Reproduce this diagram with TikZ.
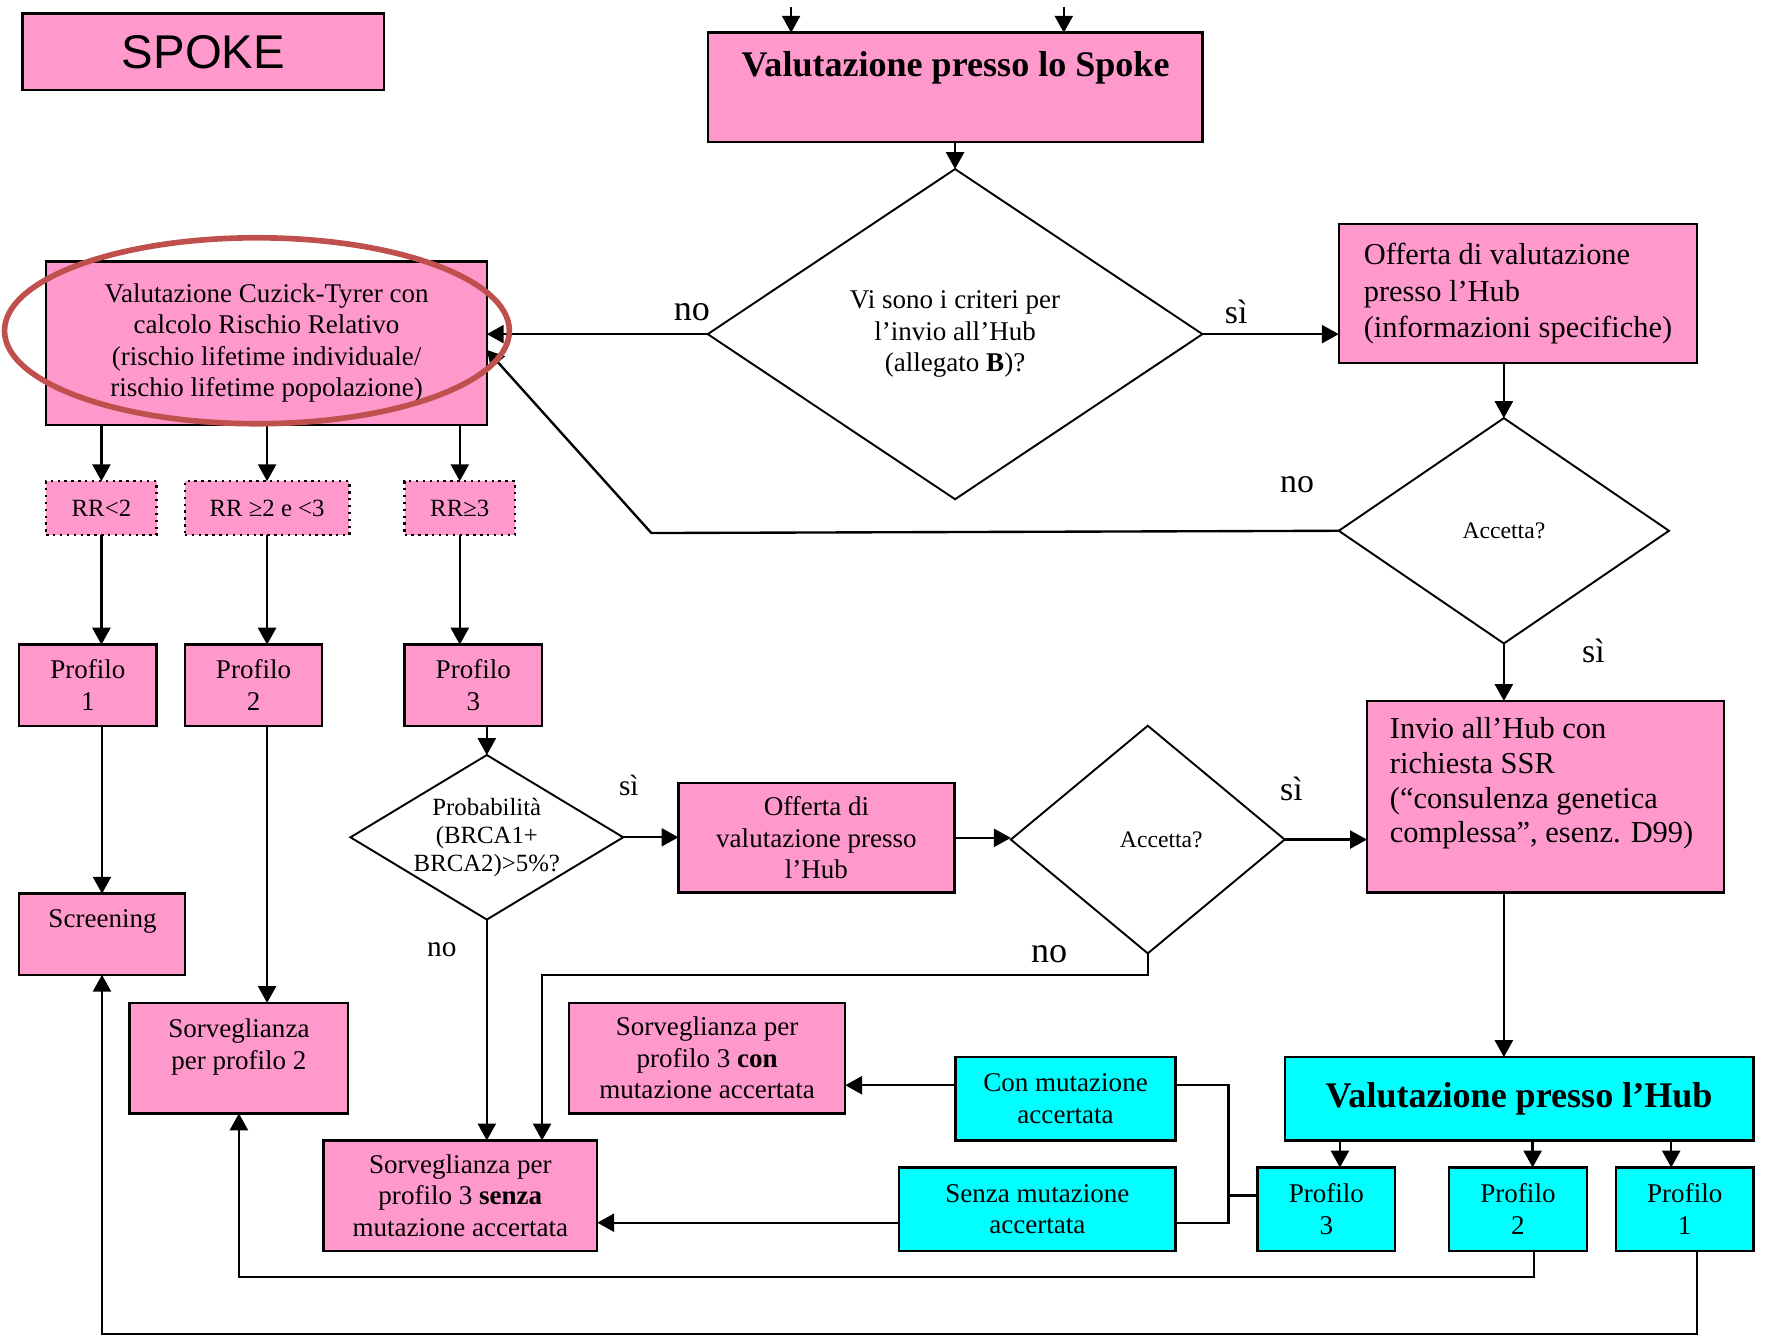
\documentclass[tikz,border=0pt]{standalone}
\usepackage{fontspec}
\setmainfont{Liberation Serif}
\newfontfamily\headsans{Liberation Sans}
\usetikzlibrary{arrows.meta,shapes.geometric}

\definecolor{boxpink}{HTML}{FF99CC}
\definecolor{boxcyan}{HTML}{00FFFF}
\definecolor{ringred}{HTML}{C0504D}

\newcommand\fsz[2]{\fontsize{#1}{#2}\selectfont}
% rectangle node spanning the corners (x1,y1)-(x2,y2) of the layout grid
\newcommand\mkbox[7]{%
  \node[#2, minimum width={(#5-#3)*0.5pt}, minimum height={(#6-#4)*0.5pt}]
    (#1) at ({(#3+#5)/2},{(#4+#6)/2}) {#7};}

\tikzset{
  box/.style={draw, line width=1.05pt, inner sep=0pt, outer sep=0pt, align=center, font=\fsz{12}{14}},
  pinkbox/.style={box, fill=boxpink},
  cyanbox/.style={box, fill=boxcyan},
  rrbox/.style={pinkbox, dotted, font=\fsz{11}{13}},
  decision/.style={draw, diamond, line width=0.85pt, inner sep=0pt, outer sep=0pt, align=center},
  txt/.style={inner sep=0pt, outer sep=0pt, align=center, font=\fsz{12}{14}},
  tag/.style={inner sep=0pt, outer sep=0pt, font=\fsz{15}{18}},
  arr/.style={line width=1.05pt, -{Triangle[length=7.5pt,width=8pt]}},
  conn/.style={line width=1.05pt},
}

\begin{document}
\begin{tikzpicture}[x=0.5pt, y=-0.5pt]
\useasboundingbox (0,0) rectangle (1568,1189);

% ---------- header ----------
\mkbox{spoke}{pinkbox, font=\headsans\fsz{21}{25}}{20}{12}{341}{80}{SPOKE}
\mkbox{vspoke}{pinkbox}{628}{29}{1067}{126}{}
\node[txt, font=\bfseries\fsz{16}{19}] (vspoketxt) at (848,60) {Valutazione presso lo Spoke};
\coordinate (inA) at (702,6);
\coordinate (inB) at (944,6);

% ---------- spoke decisions ----------
\node[decision, shape aspect=1.5, minimum width=219.5pt, minimum height=146.5pt, font=\fsz{12}{14}]
  (crit) at (847.5,296.5) {Vi sono i criteri per\\l’invio all’Hub\\(allegato \textbf{B})?};
\mkbox{cuzick}{pinkbox}{41}{232}{432}{377}{Valutazione Cuzick-Tyrer con\\calcolo Rischio Relativo\\(rischio lifetime individuale/\\rischio lifetime popolazione)}
\mkbox{off1}{pinkbox, align=left, font=\fsz{13.5}{16}}{1188}{199}{1506}{322}{Offerta di valutazione\\presso l’Hub\\(informazioni specifiche)}
\node[decision, shape aspect=1.46, minimum width=146.5pt, minimum height=100pt, font=\fsz{10.5}{12}]
  (acc1) at (1334.5,471) {Accetta?};
\coordinate (back) at (578,473);

\mkbox{invio}{pinkbox}{1213}{622}{1530}{792}{}
\node[txt, align=left, font=\fsz{13.5}{15.5}] (inviotxt) at (1368,695)
  {Invio all’Hub con\\richiesta SSR\\(“consulenza genetica\\complessa”, esenz. D99)};

% ---------- relative risk classes ----------
\mkbox{rr1}{rrbox}{41}{427}{139}{475}{RR<2}
\mkbox{rr2}{rrbox}{164}{427}{310}{475}{RR ≥2 e <3}
\mkbox{rr3}{rrbox}{359}{427}{457}{475}{RR≥3}

\mkbox{pr1}{pinkbox}{17}{572}{139}{644}{Profilo\\1}
\mkbox{pr2}{pinkbox}{164}{572}{286}{644}{Profilo\\2}
\mkbox{pr3}{pinkbox}{359}{572}{481}{644}{Profilo\\3}

\mkbox{screen}{pinkbox}{17}{793}{164}{865}{}
\node[txt] (screentxt) at (91,818) {Screening};

\node[decision, shape aspect=1.66, minimum width=121pt, minimum height=73pt, inner sep=-4pt, font=\fsz{11}{12.3}]
  (brca) at (432,743) {Probabilità\\(BRCA1+\\BRCA2)>5\%?};
\mkbox{off2}{pinkbox}{602}{695}{847}{792}{Offerta di\\valutazione presso\\l’Hub}
\node[decision, shape aspect=1.2, minimum width=121.5pt, minimum height=101pt, font=\fsz{10.5}{12}]
  (acc2) at (1018.5,745) {\hspace*{12pt}Accetta?};
\coordinate (nob) at (481,865);

% ---------- surveillance ----------
\mkbox{sorv2}{pinkbox}{115}{890}{309}{988}{}
\node[txt] (sorv2txt) at (212,929) {Sorveglianza\\per profilo 2};
\mkbox{sorvcon}{pinkbox}{505}{890}{750}{988}{Sorveglianza per\\profilo 3 \textbf{con}\\mutazione accertata}
\mkbox{sorvsenza}{pinkbox}{287}{1012}{530}{1110}{Sorveglianza per\\profilo 3 \textbf{senza}\\mutazione accertata}

% ---------- hub ----------
\mkbox{hub}{cyanbox, font=\bfseries\fsz{16}{19}}{1140}{938}{1556}{1012}{Valutazione presso l’Hub}
\mkbox{hp3}{cyanbox}{1116}{1036}{1238}{1110}{Profilo\\3}
\mkbox{hp2}{cyanbox}{1286}{1036}{1408}{1110}{Profilo\\2}
\mkbox{hp1}{cyanbox}{1434}{1036}{1556}{1110}{Profilo\\1}
\mkbox{con}{cyanbox}{848}{938}{1043}{1012}{Con mutazione\\accertata}
\mkbox{senza}{cyanbox}{798}{1036}{1043}{1110}{Senza mutazione\\accertata}
\coordinate (brk) at (1090,1061);
\coordinate (brkTop) at (1090,963);
\coordinate (brkBot) at (1090,1085);
\coordinate (ret2) at (1360,1133);
\coordinate (ret1) at (1506,1184);

% ---------- branch labels ----------
\node[tag, font=\fsz{16}{18}] (lno1) at (614,277) {no};
\node[tag] (lsi1) at (1097,277) {sì};
\node[tag] (lno2) at (1151,430) {no};
\node[tag] (lsi2) at (1414,578) {sì};
\node[tag, font=\fsz{13}{15}] (lsi3) at (558,697) {sì};
\node[tag, font=\fsz{13}{15}] (lno3) at (392,843) {no};
\node[tag] (lsi4) at (1146,700) {sì};
\node[tag, font=\fsz{16}{18}] (lno4) at (931,847) {no};

% ---------- connectors ----------
\draw[arr] (inA) -- (inA |- vspoke.north);
\draw[arr] (inB) -- (inB |- vspoke.north);
\draw[arr] (vspoke.south) -- (crit.north);
\draw[arr] (crit.west) -- (crit.west -| cuzick.east);
\draw[arr] (crit.east) -- (crit.east -| off1.west);
\draw[arr] (acc1.north |- off1.south) -- (acc1.north);
\draw[arr] (acc1.west) -- (back) -- ([yshift=-3pt]cuzick.east);
\draw[arr] (acc1.south) -- (acc1.south |- invio.north);
\draw[arr] (acc1.south |- invio.south) -- (acc1.south |- hub.north);

\draw[arr] (rr1.north |- cuzick.south) -- (rr1.north);
\draw[arr] (rr2.north |- cuzick.south) -- (rr2.north);
\draw[arr] (rr3.north |- cuzick.south) -- (rr3.north);
\draw[arr] (rr1.south) -- (rr1.south |- pr1.north);
\draw[arr] (rr2.south) -- (rr2.south |- pr2.north);
\draw[arr] (rr3.south) -- (rr3.south |- pr3.north);
\draw[arr] (screen.north |- pr1.south) -- (screen.north);
\draw[arr] (rr2.south |- pr2.south) -- (rr2.south |- sorv2.north);
\draw[arr] (brca.north |- pr3.south) -- (brca.north);

\draw[arr] (brca.east) -- (brca.east -| off2.west);
\draw[arr] (brca.south) -- (brca.south |- sorvsenza.north);
\draw[arr] (off2.east) -- (off2.east -| acc2.west);
\draw[arr] (acc2.east) -- (acc2.east -| invio.west);
\draw[arr] (acc2.south) |- (nob) -- (nob |- sorvsenza.north);

\draw[arr] ([xshift=6pt]hp3.north |- hub.south) -- ([xshift=6pt]hp3.north);
\draw[arr] ([xshift=6.5pt]hp2.north |- hub.south) -- ([xshift=6.5pt]hp2.north);
\draw[arr] ([xshift=-6pt]hp1.north |- hub.south) -- ([xshift=-6pt]hp1.north);

\draw[conn] ([yshift=6pt]hp3.west) -- (brk);
\draw[conn] ([yshift=6pt]con.east) -- (brkTop) -- (brkBot) -- ([yshift=-6pt]senza.east);
\draw[arr] ([yshift=6pt]con.west) -- ([yshift=6pt]con.west -| sorvcon.east);
\draw[arr] ([yshift=-6pt]senza.west) -- ([yshift=-6pt]senza.west -| sorvsenza.east);

\draw[arr] ([xshift=7pt]hp2.south) |- (sorv2.south |- ret2) -- (sorv2.south);
\draw[arr] (ret1 |- hp1.south) |- (screen.south |- ret1) -- (screen.south);

% ---------- highlight ring ----------
\draw[ringred, line width=2.5pt] (228,293.5) ellipse [x radius=112pt, y radius=41.25pt];
\end{tikzpicture}
\end{document}
